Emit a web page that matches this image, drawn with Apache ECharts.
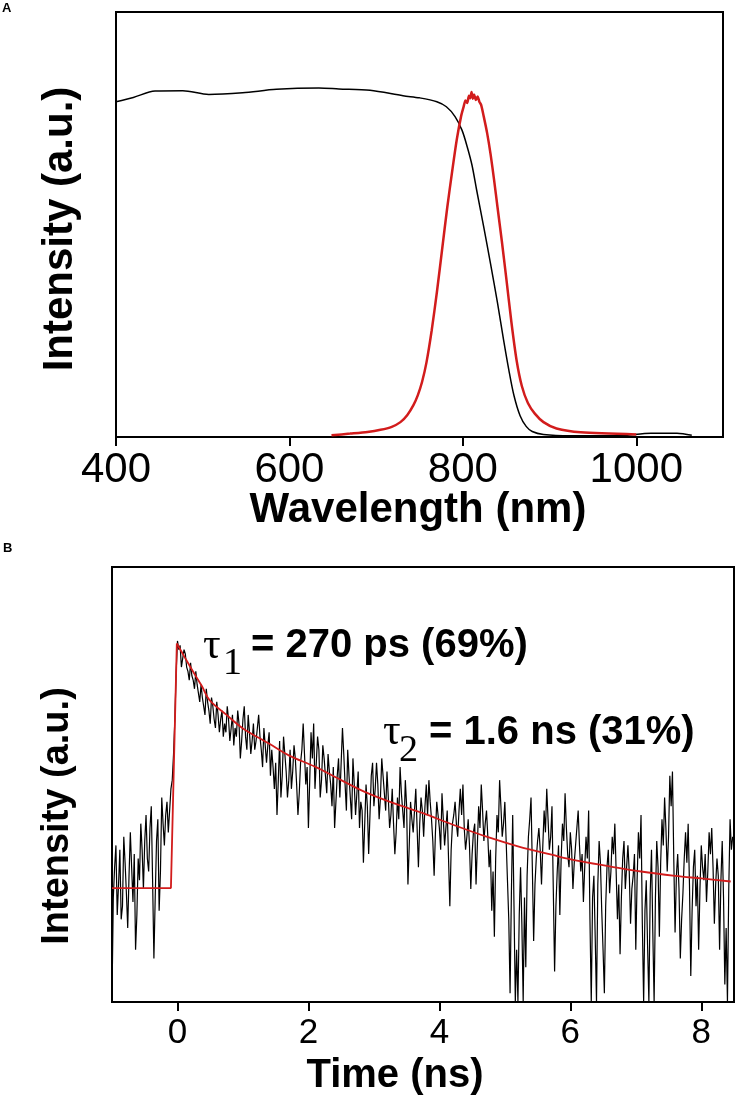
<!DOCTYPE html>
<html><head><meta charset="utf-8">
<script src="https://cdn.jsdelivr.net/npm/echarts@6/dist/echarts.min.js"></script>
<style>html,body{margin:0;padding:0;background:#fff}#c{width:736px;height:1097px}</style>
</head><body><div id="c"></div>
<script>
// ---------- Panel A : spectra ----------
const absWavelength = [400, 420, 445, 477, 507, 546, 585, 634, 657, 693, 731, 750, 770, 781, 791, 799, 805, 810.5, 816, 824, 832, 840, 847, 853, 859, 866, 873, 880, 893, 924, 980, 1017, 1047, 1064];
const absIntensity  = [0.789, 0.799, 0.814, 0.815, 0.806, 0.810, 0.818, 0.821, 0.819, 0.816, 0.803, 0.798, 0.789, 0.777, 0.754, 0.722, 0.683, 0.640, 0.580, 0.495, 0.407, 0.315, 0.228, 0.158, 0.097, 0.050, 0.025, 0.013, 0.006, 0.003, 0.003, 0.009, 0.009, 0.004];
const emWavelength = [648.5, 670, 690, 705, 718, 728, 736, 743, 748, 753, 758, 764, 770, 776, 782, 788, 793, 798, 801, 803, 805, 807, 808.5, 810, 811.5, 813, 815, 817, 819, 821, 824, 828, 832, 836, 840, 845, 850, 856, 862, 868, 875, 883, 893, 908, 936, 1000];
const emIntensity  = [0.004, 0.008, 0.012, 0.017, 0.024, 0.035, 0.052, 0.075, 0.098, 0.130, 0.175, 0.250, 0.340, 0.440, 0.540, 0.630, 0.700, 0.755, 0.778, 0.792, 0.786, 0.803, 0.797, 0.812, 0.796, 0.806, 0.793, 0.801, 0.789, 0.782, 0.755, 0.715, 0.665, 0.605, 0.540, 0.460, 0.375, 0.270, 0.180, 0.120, 0.080, 0.055, 0.035, 0.020, 0.011, 0.006];
const wavelengthTicks = [400, 600, 800, 1000];

// ---------- Panel B : PL decay ----------
const decayStart = -1.0, decayStep = 0.02;   // ns, sampling grid of the trace
const decayCounts = [
  // -1.00 .. 0.00
  0.01,0.24,0.31,0.36,0.20,0.27,0.35,0.19,0.22,0.38,0.32,0.25,0.17,0.29,0.39,0.31,0.23,0.34,0.12,0.20,
  0.33,0.28,0.41,0.35,0.26,0.37,0.43,0.33,0.30,0.40,0.45,0.28,0.10,0.24,0.37,0.42,0.21,0.30,0.47,0.41,
  0.36,0.43,0.46,0.39,0.44,0.49,0.51,0.57,0.65,0.76,0.83,
  // 0.02 .. 1.40
  0.81,0.82,0.77,0.79,0.81,0.80,0.77,0.76,0.74,0.78,0.75,0.74,0.72,0.76,0.73,0.71,0.69,0.73,0.70,0.68,
  0.66,0.72,0.69,0.67,0.64,0.70,0.68,0.65,0.63,0.69,0.66,0.62,0.65,0.67,0.61,0.64,0.62,0.68,0.65,0.60,
  0.63,0.66,0.59,0.63,0.61,0.67,0.64,0.56,0.60,0.65,0.68,0.61,0.58,0.66,0.62,0.57,0.60,0.64,0.58,0.60,
  0.63,0.66,0.61,0.58,0.54,0.63,0.59,0.55,0.59,0.62,
  // 1.42 .. 3.68
  0.52,0.58,0.54,0.49,0.55,0.43,0.51,0.60,0.47,0.52,0.61,0.57,0.53,0.47,0.51,0.58,0.49,0.53,0.59,0.56,
  0.50,0.43,0.48,0.55,0.58,0.64,0.57,0.50,0.54,0.40,0.51,0.62,0.56,0.64,0.49,0.55,0.61,0.58,0.47,0.51,
  0.59,0.56,0.52,0.48,0.57,0.53,0.50,0.45,0.54,0.40,0.46,0.52,0.56,0.47,0.55,0.63,0.57,0.50,0.44,0.58,
  0.52,0.47,0.42,0.56,0.50,0.43,0.48,0.53,0.40,0.46,0.44,0.32,0.41,0.50,0.45,0.34,0.43,0.52,0.55,0.45,
  0.49,0.55,0.50,0.42,0.47,0.56,0.52,0.48,0.44,0.53,0.47,0.40,0.43,0.49,0.41,0.34,0.39,0.47,0.42,0.54,
  0.48,0.44,0.40,0.51,0.45,0.27,0.36,0.46,0.42,0.39,0.44,0.49,0.40,0.31,
  // 3.70 .. 8.48
  0.41,0.47,0.44,0.38,0.45,0.50,0.43,0.51,0.46,0.42,0.37,0.29,0.39,0.46,0.43,0.40,0.35,0.48,0.42,0.36,
  0.40,0.44,0.33,0.22,0.35,0.41,0.43,0.46,0.41,0.38,0.44,0.49,0.43,0.50,0.40,0.35,0.38,0.42,0.36,0.26,
  0.34,0.39,0.41,0.27,0.36,0.45,0.40,0.50,0.44,0.37,0.41,0.44,0.38,0.31,0.35,0.21,0.30,0.15,0.33,0.43,
  0.39,0.51,0.45,0.38,0.41,0.46,0.37,0.28,0.19,0.02,0.25,0.43,0.22,0.00,0.12,0.00,0.20,0.31,0.18,0.00,
  0.24,0.08,0.29,0.38,0.42,0.47,0.31,0.14,0.27,0.33,0.37,0.40,0.35,0.27,0.36,0.44,0.39,0.49,0.42,0.35,
  0.38,0.45,0.26,0.07,0.22,0.30,0.36,0.20,0.33,0.41,0.37,0.48,0.40,0.34,0.31,0.39,0.35,0.26,0.32,0.36,
  0.40,0.44,0.36,0.30,0.34,0.23,0.31,0.38,0.33,0.44,0.19,0.00,0.24,0.29,0.15,0.00,0.27,0.37,0.32,0.21,
  0.12,0.02,0.22,0.31,0.35,0.25,0.30,0.38,0.34,0.41,0.30,0.19,0.27,0.11,0.24,0.33,0.37,0.26,0.31,0.36,
  0.30,0.18,0.26,0.29,0.34,0.12,0.28,0.39,0.33,0.43,0.18,0.00,0.21,0.28,0.13,0.00,0.25,0.35,0.16,0.00,
  0.24,0.37,0.31,0.15,0.32,0.42,0.36,0.47,0.40,0.30,0.38,0.52,0.45,0.53,0.33,0.16,0.29,0.34,0.26,0.10,
  0.19,0.25,0.33,0.39,0.32,0.41,0.27,0.06,0.21,0.31,0.35,0.22,0.29,0.12,0.26,0.36,0.31,0.28,0.34,0.23,
  0.30,0.39,0.34,0.40,0.31,0.18,0.27,0.33,0.29,0.12,0.28,0.37,0.24,0.04,0.17,0.00,0.26,0.42,0.35,0.38
];
const fitTime  = [-1.0, -0.10, -0.01, 0.12, 0.24, 0.37, 0.49, 0.75, 1.0, 1.41, 1.7, 2.1, 2.5, 2.86, 3.3, 3.75, 4.2, 4.72, 5.2, 5.73, 6.1, 6.6, 7.08, 7.6, 8.0, 8.45];
const fitValue = [0.262, 0.262, 0.824, 0.790, 0.759, 0.727, 0.694, 0.660, 0.629, 0.593, 0.567, 0.541, 0.510, 0.483, 0.457, 0.434, 0.408, 0.380, 0.358, 0.338, 0.325, 0.312, 0.300, 0.290, 0.284, 0.277];
const timeTicks = [0, 2, 4, 6, 8];

const SANS = '"Liberation Sans", Arial, Helvetica, sans-serif';
const SERIF = '"Liberation Serif", "Times New Roman", serif';
const RED = '#d21c1c';

const zip = (xs, ys) => xs.map((x, i) => [x, ys[i]]);
const decayData = decayCounts.map((v, i) => [+(decayStart + i * decayStep).toFixed(3), v]);
const peakIdx = 2;
const fitRise = zip(fitTime.slice(0, peakIdx + 1), fitValue.slice(0, peakIdx + 1));
const fitDecay = zip(fitTime.slice(peakIdx), fitValue.slice(peakIdx));

function txt(text, x, y, font, opts) {
  opts = opts || {};
  return {
    type: 'text', x: x, y: y, rotation: opts.rot || 0, silent: true,
    style: { text: text, font: font, fill: '#000',
      textAlign: opts.align || 'center', textVerticalAlign: 'middle',
      align: opts.align || 'center', verticalAlign: 'middle' }
  };
}

const chart = echarts.init(document.getElementById('c'), null, { renderer: 'canvas' });
const tickStyle = { show: true, inside: false, length: 9, lineStyle: { color: '#000', width: 2 } };
chart.setOption({
  animation: false,
  backgroundColor: '#fff',
  grid: [
    { left: 116, top: 12, width: 607, height: 425, show: true, borderColor: '#000', borderWidth: 2, containLabel: false, outerBoundsMode: 'none' },
    { left: 112, top: 567, width: 622, height: 435, show: true, borderColor: '#000', borderWidth: 2, containLabel: false, outerBoundsMode: 'none' }
  ],
  xAxis: [
    { type: 'value', gridIndex: 0, min: 400, max: 1100, interval: 200,
      axisLine: { show: false }, splitLine: { show: false },
      axisTick: Object.assign({}, tickStyle, { customValues: wavelengthTicks }),
      axisLabel: { customValues: wavelengthTicks, color: '#000', fontFamily: SANS, fontSize: 42, margin: 12,
        formatter: v => wavelengthTicks.includes(v) ? String(v) : '' } },
    { type: 'value', gridIndex: 1, min: -1, max: 8.5,
      axisLine: { show: false }, splitLine: { show: false },
      axisTick: Object.assign({}, tickStyle, { customValues: timeTicks }),
      axisLabel: { customValues: timeTicks, color: '#000', fontFamily: SANS, fontSize: 35, margin: 14 } }
  ],
  yAxis: [
    { type: 'value', gridIndex: 0, min: 0, max: 1, axisLine: { show: false }, axisTick: { show: false }, axisLabel: { show: false }, splitLine: { show: false } },
    { type: 'value', gridIndex: 1, min: 0, max: 1, axisLine: { show: false }, axisTick: { show: false }, axisLabel: { show: false }, splitLine: { show: false } }
  ],
  series: [
    { name: 'Absorption', type: 'line', xAxisIndex: 0, yAxisIndex: 0, data: zip(absWavelength, absIntensity),
      showSymbol: false, smooth: 0.3, lineStyle: { color: '#000', width: 1.5 } },
    { name: 'Emission', type: 'line', xAxisIndex: 0, yAxisIndex: 0, data: zip(emWavelength, emIntensity),
      showSymbol: false, smooth: 0.25, lineStyle: { color: RED, width: 2.5 } },
    { name: 'Decay', type: 'line', xAxisIndex: 1, yAxisIndex: 1, data: decayData,
      showSymbol: false, lineStyle: { color: '#000', width: 1.2 } },
    { name: 'Fit rise', type: 'line', xAxisIndex: 1, yAxisIndex: 1, data: fitRise,
      showSymbol: false, lineStyle: { color: RED, width: 1.8 } },
    { name: 'Fit decay', type: 'line', xAxisIndex: 1, yAxisIndex: 1, data: fitDecay,
      showSymbol: false, smooth: 0.35, lineStyle: { color: RED, width: 1.8 } }
  ],
  graphic: { elements: [
    txt('A', 2, 8, 'bold 13px ' + SANS, { align: 'left' }),
    txt('B', 3, 548, 'bold 13px ' + SANS, { align: 'left' }),
    txt('Intensity (a.u.)', 60, 229, 'bold 42px ' + SANS, { rot: Math.PI / 2 }),
    txt('Wavelength (nm)', 418, 510, 'bold 42px ' + SANS),
    txt('Intensity (a.u.)', 58, 816, 'bold 38px ' + SANS, { rot: Math.PI / 2 }),
    txt('Time (ns)', 395, 1076, 'bold 40px ' + SANS),
    txt('\u03C4', 203, 646, '44px ' + SERIF, { align: 'left' }),
    txt('1', 223, 664, '38px ' + SERIF, { align: 'left' }),
    txt('= 270 ps (69%)', 251, 646, 'bold 40px ' + SANS, { align: 'left' }),
    txt('\u03C4', 383, 732, '44px ' + SERIF, { align: 'left' }),
    txt('2', 399, 751, '38px ' + SERIF, { align: 'left' }),
    txt('= 1.6 ns (31%)', 429, 733, 'bold 40px ' + SANS, { align: 'left' })
  ] }
});
</script></body></html>
